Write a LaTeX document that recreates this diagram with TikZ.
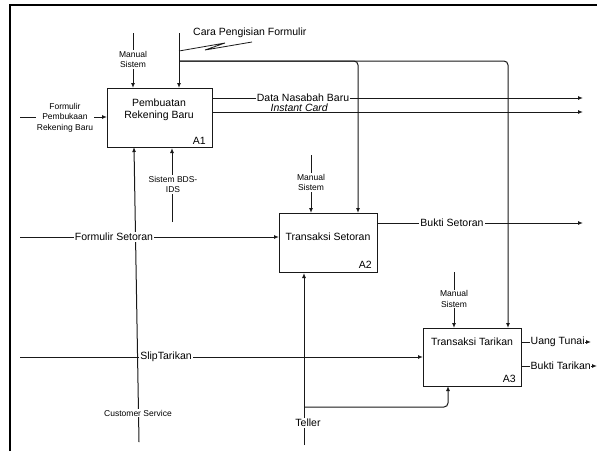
\documentclass[tikz,border=0pt]{standalone}
\usepackage{fontspec}
\setmainfont{Liberation Sans}
\usetikzlibrary{arrows.meta}
\begin{document}
\begin{tikzpicture}[x=1pt,y=-1pt,
  line/.style={draw=black!90, line width=1pt},
  arr/.style={line, -{Latex[length=5pt,width=4pt]}},
  proc/.style={draw=black!90, line width=1pt, rectangle, inner sep=0pt, anchor=north west},
  lbl/.style={font=\fontsize{10.5}{12}\selectfont, fill=white, inner sep=1pt},
  boxtxt/.style={font=\fontsize{10.5}{12}\selectfont, align=center, inner sep=0pt},
  small/.style={font=\fontsize{8.5}{10.5}\selectfont, fill=white, inner sep=1pt, align=center},
]
\useasboundingbox (0,0) rectangle (597,451);
% frame
\draw[line width=2.5pt] (10,451) -- (10,5) -- (597,5);

% boxes
\node[proc, minimum width=105pt, minimum height=59pt] (A1) at (107,88) {};
\node[proc, minimum width=98pt, minimum height=59pt] (A2) at (279,213) {};
\node[proc, minimum width=98pt, minimum height=58pt] (A3) at (423,328) {};
\node[boxtxt] (t1) at (159,110) {Pembuatan\\Rekening Baru};
\node[boxtxt, anchor=base east] (n1) at (206,144) {A1};
\node[boxtxt] (t2) at (328,237) {Transaksi Setoran};
\node[boxtxt, anchor=base east] (n2) at (372,268) {A2};
\node[boxtxt] (t3) at (472,342) {Transaksi Tarikan};
\node[boxtxt, anchor=base east] (n3) at (516,382) {A3};

% coordinates
\coordinate (ms1) at (133,33);
\coordinate (cp) at (179,33);
\coordinate (cph) at (179,61);
\coordinate (fp) at (20,117);
\coordinate (bds) at (172,222);
\coordinate (cs) at (139,442);
\coordinate (cst) at (134,147);
\coordinate (ms2) at (311,155);
\coordinate (fs) at (20,237);
\coordinate (te) at (304,445);
\coordinate (teb) at (304,407);
\coordinate (ms3) at (454,272);
\coordinate (st) at (20,357);
\coordinate (dnb) at (583,98);
\coordinate (ic) at (583,112);
\coordinate (bs) at (583,223);
\coordinate (ut) at (591,342);
\coordinate (bt) at (597,366);

% controls / inputs of A1
\draw[arr] (ms1) -- (ms1 |- A1.north);
\node[small] (lms1) at (133,59.5) {Manual\\Sistem};
\draw[arr] (cp) -- (cp |- A1.north);
\draw[arr, rounded corners=4pt] (cph) -- (358,61) -- (358,213);
\draw[arr, rounded corners=4pt] (cph) -- (508,61) -- (508,328);
\draw[line, line width=0.8pt] (179,51) -- (225,43) -- (205,50) -- (252,42);
\node[font=\fontsize{10.5}{12}\selectfont, anchor=west, inner sep=0pt] (lcp) at (193,33) {Cara Pengisian Formulir};

\draw[arr] (fp) -- (fp -| A1.west);
\node[small] (lfp) at (65,117.5) {Formulir\\Pembukaan\\Rekening Baru};

\draw[arr] (bds) -- (bds |- A1.south);
\node[small] (lbds) at (173,184.5) {Sistem BDS-\\IDS};
\draw[arr] (cs) -- (cst);
\node[small] (lcs) at (138,413) {Customer Service};

% outputs of A1
\draw[arr] (dnb -| A1.east) -- (dnb);
\node[lbl, inner ysep=0pt] (ldnb) at (303,97.5) {Data Nasabah Baru};
\draw[arr] (ic -| A1.east) -- (ic);
\node[font=\fontsize{10.5}{12}\selectfont\itshape, anchor=base east, inner sep=0pt] (lic) at (328,111) {Instant Card};

% A2
\draw[arr] (ms2) -- (ms2 |- A2.north);
\node[small] (lms2) at (311,182.5) {Manual\\Sistem};
\draw[arr] (fs) -- (fs -| A2.west);
\node[lbl] (lfs) at (114,237) {Formulir Setoran};
\draw[arr] (bs -| A2.east) -- (bs);
\node[lbl] (lbs) at (452,223) {Bukti Setoran};
\draw[arr] (te) -- (te |- A2.south);
\draw[arr, rounded corners=4pt] (teb) -- (448,407) -- (448,386);
\node[lbl] (lte) at (308,423) {Teller};

% A3
\draw[arr] (ms3) -- (ms3 |- A3.north);
\node[small] (lms3) at (454,299) {Manual\\Sistem};
\draw[arr] (st) -- (st -| A3.west);
\node[lbl] (lst) at (166,357) {SlipTarikan};
\draw[arr] (ut -| A3.east) -- (ut);
\node[lbl, anchor=west, inner sep=0.5pt] (lut) at (530,342) {Uang Tunai};
\draw[arr] (bt -| A3.east) -- (bt);
\node[lbl, anchor=west, inner sep=0.5pt] (lbt) at (530,366) {Bukti Tarikan};
\end{tikzpicture}
\end{document}
